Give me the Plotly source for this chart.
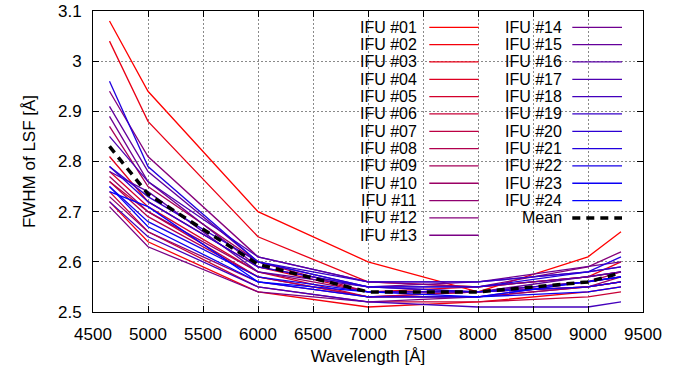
import plotly.graph_objects as go

# ---------------- data ----------------
wavelength = [4650, 5000, 6000, 7000, 8000, 9000, 9300]

ifu01 = [3.08, 2.94, 2.70, 2.60, 2.54, 2.61, 2.66]
ifu02 = [2.72, 2.64, 2.54, 2.51, 2.52, 2.54, 2.55]
ifu03 = [3.04, 2.88, 2.65, 2.56, 2.55, 2.57, 2.60]
ifu04 = [2.81, 2.72, 2.59, 2.54, 2.55, 2.57, 2.58]
ifu05 = [2.78, 2.71, 2.58, 2.53, 2.53, 2.55, 2.56]
ifu06 = [2.74, 2.66, 2.55, 2.52, 2.52, 2.53, 2.54]
ifu07 = [2.76, 2.70, 2.57, 2.53, 2.54, 2.55, 2.56]
ifu08 = [2.76, 2.69, 2.57, 2.53, 2.54, 2.56, 2.58]
ifu09 = [2.87, 2.75, 2.60, 2.54, 2.54, 2.56, 2.57]
ifu10 = [2.77, 2.70, 2.58, 2.54, 2.54, 2.55, 2.57]
ifu11 = [2.73, 2.66, 2.56, 2.53, 2.53, 2.55, 2.56]
ifu12 = [2.94, 2.81, 2.61, 2.56, 2.55, 2.59, 2.62]
ifu13 = [2.71, 2.63, 2.54, 2.52, 2.53, 2.56, 2.57]
ifu14 = [2.89, 2.76, 2.59, 2.55, 2.56, 2.59, 2.60]
ifu15 = [2.91, 2.78, 2.60, 2.55, 2.54, 2.57, 2.58]
ifu16 = [2.78, 2.74, 2.58, 2.55, 2.55, 2.57, 2.58]
ifu17 = [2.85, 2.76, 2.61, 2.56, 2.56, 2.58, 2.59]
ifu18 = [2.72, 2.65, 2.55, 2.52, 2.51, 2.51, 2.52]
ifu19 = [2.79, 2.73, 2.60, 2.56, 2.56, 2.58, 2.59]
ifu20 = [2.79, 2.72, 2.59, 2.55, 2.54, 2.56, 2.57]
ifu21 = [2.96, 2.79, 2.60, 2.55, 2.55, 2.58, 2.61]
ifu22 = [2.75, 2.68, 2.57, 2.54, 2.54, 2.55, 2.56]
ifu23 = [2.75, 2.67, 2.56, 2.53, 2.53, 2.54, 2.55]
ifu24 = [2.74, 2.71, 2.56, 2.54, 2.53, 2.56, 2.57]

mean_fwhm = [2.83, 2.735, 2.595, 2.54, 2.54, 2.56, 2.578]

series = [ifu01, ifu02, ifu03, ifu04, ifu05, ifu06, ifu07, ifu08, ifu09, ifu10,
          ifu11, ifu12, ifu13, ifu14, ifu15, ifu16, ifu17, ifu18, ifu19, ifu20,
          ifu21, ifu22, ifu23, ifu24]
names = ["IFU #%02d" % (i + 1) for i in range(len(series))]
mean_name = "Mean"

x_ticks = [4500, 5000, 5500, 6000, 6500, 7000, 7500, 8000, 8500, 9000, 9500]
y_ticks = [2.5, 2.6, 2.7, 2.8, 2.9, 3.0, 3.1]
y_tick_text = ["2.5", "2.6", "2.7", "2.8", "2.9", "3", "3.1"]

# ---------------- style ----------------
W, H = 688, 369
L, R, T, B = 93, 45, 11, 57
FONT = "Liberation Sans"
FS = 17
FS_LEG = 16

def color(i, n):
    t = i / (n - 1)
    return "rgb(%d,0,%d)" % (round(255 * (1 - t)), round(255 * t))

colors = [color(i, len(series)) for i in range(len(series))]

fig = go.Figure()
for s, nm, c in zip(series, names, colors):
    fig.add_trace(go.Scatter(x=wavelength, y=s, mode="lines", name=nm,
                             line=dict(color=c, width=1.3), showlegend=False))
fig.add_trace(go.Scatter(x=wavelength, y=mean_fwhm, mode="lines", name=mean_name,
                         line=dict(color="black", width=3.5, dash="8px,6px"),
                         showlegend=False))

# ---------------- custom gnuplot-like legend ----------------
pw = W - L - R
ph = H - T - B

def px_x(px):
    return (px - L) / pw

def px_y(py):
    return (H - B - py) / ph

shapes = []
annotations = []
# opaque legend background (hides grid, below traces)
shapes.append(dict(type="rect", xref="paper", yref="paper",
                   x0=px_x(343), x1=px_x(W - R), y0=px_y(245), y1=px_y(T),
                   fillcolor="white", line=dict(width=0), layer="between"))

row0, drow = 27.3, 17.33
entries = [(nm, c, "solid", 1.3) for nm, c in zip(names, colors)]
entries.append((mean_name, "black", "8px,6px", 3.5))
col_text_right = [418.0, 562.5]
col_line = [(429.3, 478.7), (572.3, 622.0)]
for k, (nm, c, dash, wd) in enumerate(entries):
    col = 0 if k < 13 else 1
    row = k if k < 13 else k - 13
    py = row0 + drow * row
    annotations.append(dict(text=nm, xref="paper", yref="paper",
                            x=px_x(col_text_right[col]), y=px_y(py),
                            xanchor="right", yanchor="middle", showarrow=False,
                            borderpad=0,
                            font=dict(family=FONT, size=FS_LEG, color="black")))
    shapes.append(dict(type="line", xref="paper", yref="paper",
                       x0=px_x(col_line[col][0]), x1=px_x(col_line[col][1]),
                       y0=px_y(py), y1=px_y(py),
                       line=dict(color=c, width=wd, dash=dash), layer="above"))

axis_common = dict(showline=True, linecolor="black", linewidth=1, mirror="ticks",
                   ticks="inside", ticklen=6, tickcolor="black", tickwidth=1,
                   showgrid=True, gridcolor="#8a8a8a", griddash="2px,2px", gridwidth=1,
                   zeroline=False, tickfont=dict(family=FONT, size=FS, color="black"),
                   ticklabelstandoff=7)

fig.update_layout(
    width=W, height=H,
    margin=dict(l=L, r=R, t=T, b=B, autoexpand=False),
    paper_bgcolor="white", plot_bgcolor="white",
    font=dict(family=FONT, size=FS, color="black"),
    xaxis=dict(range=[4500, 9500], tickvals=x_ticks,
               title=dict(text="Wavelength [Å]", font=dict(family=FONT, size=FS), standoff=6),
               **axis_common),
    yaxis=dict(range=[2.5, 3.1], tickvals=y_ticks, ticktext=y_tick_text,
               title=dict(text="FWHM of LSF [Å]", font=dict(family=FONT, size=FS), standoff=18),
               **axis_common),
    shapes=shapes, annotations=annotations,
    showlegend=False,
)

fig.write_html("out.html")
